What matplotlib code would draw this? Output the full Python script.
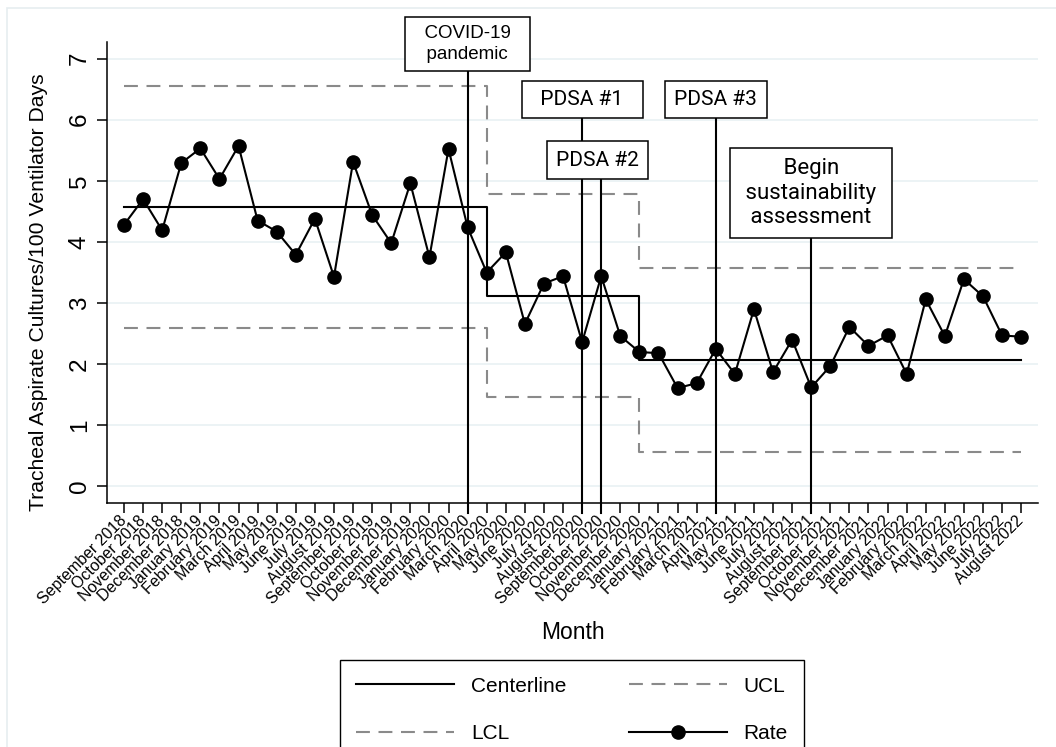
import numpy as np
import matplotlib as mpl
mpl.use('Agg')
import matplotlib.pyplot as plt
from matplotlib.patches import Rectangle
from matplotlib.lines import Line2D

# monthly categories (Sep 2018 - Aug 2022)
months = ['September 2018', 'October 2018', 'November 2018', 'December 2018',
          'January 2019', 'February 2019', 'March 2019', 'April 2019',
          'May 2019', 'June 2019', 'July 2019', 'August 2019',
          'September 2019', 'October 2019', 'November 2019', 'December 2019',
          'January 2020', 'February 2020', 'March 2020', 'April 2020',
          'May 2020', 'June 2020', 'July 2020', 'August 2020',
          'September 2020', 'October 2020', 'November 2020', 'December 2020',
          'January 2021', 'February 2021', 'March 2021', 'April 2021',
          'May 2021', 'June 2021', 'July 2021', 'August 2021',
          'September 2021', 'October 2021', 'November 2021', 'December 2021',
          'January 2022', 'February 2022', 'March 2022', 'April 2022',
          'May 2022', 'June 2022', 'July 2022', 'August 2022']

# tracheal aspirate cultures per 100 ventilator days
rate = [4.28, 4.70, 4.19, 5.29, 5.53, 5.03, 5.57, 4.35, 4.17, 3.79, 4.38, 3.43,
        5.31, 4.44, 3.98, 4.96, 3.75, 5.52, 4.24, 3.50, 3.83, 2.66, 3.32, 3.44,
        2.36, 3.44, 2.46, 2.20, 2.18, 1.61, 1.69, 2.25, 1.84, 2.90, 1.87, 2.40,
        1.62, 1.97, 2.61, 2.30, 2.47, 1.84, 3.06, 2.46, 3.39, 3.11, 2.47, 2.45]

# control chart phases: first month index, centerline, limits
phase_start = [0, 19, 27]
center = [4.57, 3.12, 2.07]
ucl = [6.55, 4.78, 3.57]
lcl = [2.59, 1.47, 0.56]

# annotated events: label and month index of the line
event_labels = ['  COVID-19  \n  pandemic  ', '  PDSA #1  ', 'PDSA #2',
                'PDSA #3', ' Begin \n sustainability \n assessment ']
event_month = [18, 24, 25, 31, 36]

# layout of the annotation boxes (x centre, y centre in data units)
box_x = [18, 24, 24.8, 31, 36]
box_y = [7.236, 6.33, 5.34, 6.33, 4.80]
box_font = ['Liberation Sans', 'Roboto', 'Roboto', 'Roboto', 'Roboto']
box_size = [13.5, 15, 15, 15, 16]
box_pad = [0.45, 0.42, 0.45, 0.45, 0.45]
box_lsp = [1.25, 1.2, 1.2, 1.2, 1.2]

plt.rcParams['font.family'] = ['Liberation Sans', 'DejaVu Sans']
plt.rcParams['lines.scale_dashes'] = False

x = np.arange(len(months))
seg = np.diff(phase_start + [len(months)])
center_m = np.repeat(center, seg)
ucl_m = np.repeat(ucl, seg)
lcl_m = np.repeat(lcl, seg)

grey = '#8a8a8a'
dash = (10, 6.2)

fig = plt.figure(figsize=(10.56, 7.47), dpi=100)
fig.add_artist(Rectangle((7 / 1056, -0.1), 1.2, 1.1 - 8 / 747,
                         transform=fig.transFigure, fill=False,
                         ec='#e6edf0', lw=1.2))
ax = fig.add_axes([107 / 1056, 1 - 503 / 747, 931 / 1056, 461 / 747])

ax.plot(x, ucl_m, drawstyle='steps-post', color=grey, lw=1.5,
        dashes=dash, zorder=2)
ax.plot(x, lcl_m, drawstyle='steps-post', color=grey, lw=1.5,
        dashes=dash, zorder=2)
ax.plot(x, center_m, drawstyle='steps-post', color='black', lw=1.5,
        zorder=2)

ylo, yhi = -0.27, 7.27
for i in range(len(event_month)):
    ax.plot([event_month[i], event_month[i]], [ylo - 0.16, box_y[i]],
            color='black', lw=1.5, clip_on=False, zorder=3)

ax.plot(x, rate, color='black', lw=1.5, marker='o', markersize=9.5,
        zorder=4)

for i in range(len(event_labels)):
    ax.text(box_x[i], box_y[i], event_labels[i], ha='center', va='center',
            multialignment='center', family=[box_font[i], 'DejaVu Sans'],
            fontsize=box_size[i], linespacing=box_lsp[i], zorder=6,
            clip_on=False,
            bbox=dict(boxstyle='square,pad=%.2f' % box_pad[i], fc='white',
                      ec='black', lw=1.1))

ax.set_xlim(-0.89, 47.88)
ax.set_ylim(ylo, yhi)
ax.set_yticks(range(8))
ax.set_xticks(x)
ax.set_xticklabels(months, rotation=45, ha='right', va='center',
                   rotation_mode='anchor', fontsize=11.5)
ax.tick_params(axis='x', length=7.2, width=1.1, pad=4)
ax.tick_params(axis='y', length=7.2, width=1.1, pad=4.5, labelsize=17.5)
for lab in ax.get_yticklabels():
    lab.set_rotation(90)
    lab.set_va('center')

ax.grid(axis='y', color='#e9f1f3', lw=1.2)
ax.set_axisbelow(True)
for side in ['top', 'right']:
    ax.spines[side].set_visible(False)
for side in ['left', 'bottom']:
    ax.spines[side].set_linewidth(1.1)

ax.set_ylabel('Tracheal Aspirate Cultures/100 Ventilator Days', fontsize=15.2)
ax.yaxis.set_label_coords(-0.0634, 0.4577)
ax.set_xlabel('Month', fontsize=16.5)
ax.xaxis.set_label_coords(0.5, -0.256)

handles = [Line2D([], [], color='black', lw=1.5),
           Line2D([], [], color=grey, lw=1.5, dashes=dash),
           Line2D([], [], color=grey, lw=1.5, dashes=dash),
           Line2D([], [], color='black', lw=1.5, marker='o', markersize=9.5)]
names = ['Centerline', 'LCL', 'UCL', 'Rate']
leg = fig.legend(handles, names, loc='upper center',
                 bbox_to_anchor=(572 / 1056, 1 - 660 / 747), ncol=2,
                 fontsize=15, frameon=True, fancybox=False, framealpha=1,
                 edgecolor='black', handlelength=4.7, handletextpad=0.8,
                 columnspacing=3.0, labelspacing=1.35, borderpad=0.8,
                 borderaxespad=0, numpoints=1)
leg.get_frame().set_linewidth(1.0)

fig.savefig('out.png', dpi=100)
